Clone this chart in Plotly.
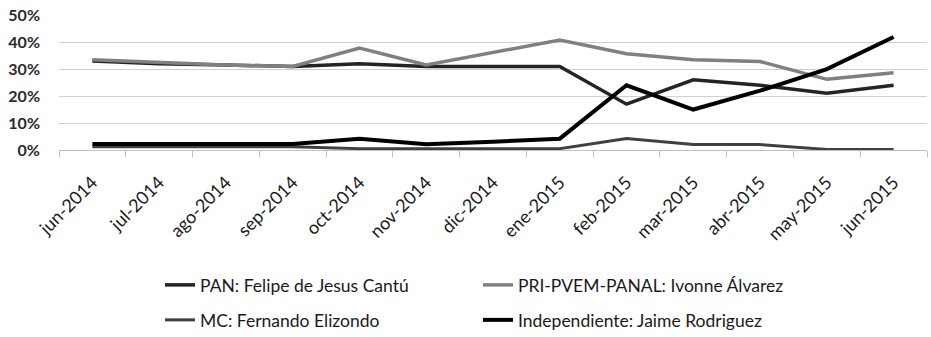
import plotly.graph_objects as go

months = ["jun-2014", "jul-2014", "ago-2014", "sep-2014", "oct-2014", "nov-2014", "dic-2014",
          "ene-2015", "feb-2015", "mar-2015", "abr-2015", "may-2015", "jun-2015"]

pan = [0.33, 0.32, 0.315, 0.31, 0.32, 0.31, 0.31, 0.31, 0.17, 0.26, 0.24, 0.21, 0.24]
pri = [0.335, 0.325, 0.315, 0.31, 0.378, 0.315, 0.36, 0.408, 0.357, 0.335, 0.328, 0.262, 0.286]
mc = [0.012, 0.012, 0.012, 0.012, 0.005, 0.005, 0.005, 0.005, 0.043, 0.02, 0.02, 0.002, 0.002]
indep = [0.022, 0.022, 0.022, 0.022, 0.042, 0.021, 0.031, 0.042, 0.24, 0.15, 0.22, 0.30, 0.419]

FONT = "Lato, Open Sans, sans-serif"
TXT = "#1a1a1a"

series = [
    ("PAN: Felipe de Jesus Cantú", pan, "#242424", 3.5, "legend"),
    ("PRI-PVEM-PANAL: Ivonne Álvarez", pri, "#808080", 3.5, "legend"),
    ("MC: Fernando Elizondo", mc, "#404040", 3.0, "legend2"),
    ("Independiente: Jaime Rodriguez", indep, "#000000", 4.0, "legend2"),
]

fig = go.Figure()
for name, vals, color, width, leg in series:
    fig.add_trace(go.Scatter(
        x=months, y=vals, mode="lines", name=name,
        line=dict(color=color, width=width),
        legend=leg,
        hovertemplate="%{x}<br>%{y:.0%}<extra></extra>"
    ))

W, H = 931, 337

legend_common = dict(
    orientation="h", xref="container", yref="container",
    xanchor="left", yanchor="middle",
    font=dict(size=17.5, color=TXT, family=FONT),
    entrywidth=273, itemwidth=30, bgcolor="rgba(0,0,0,0)",
)

fig.update_layout(
    width=W, height=H,
    margin=dict(l=59, r=4, t=15, b=187),
    plot_bgcolor="white", paper_bgcolor="white",
    font=dict(family=FONT, color=TXT),
    showlegend=True,
    legend=dict(x=160 / W, y=1 - 285 / H, **legend_common),
    legend2=dict(x=160 / W, y=1 - 320 / H, **legend_common),
    xaxis=dict(
        type="category", tickangle=-45, tickson="boundaries",
        ticks="outside", ticklen=6, tickcolor="#c0c0c0",
        showline=True, linecolor="#c0c0c0", linewidth=1,
        showgrid=False, automargin=False, ticklabelstandoff=14,
        tickfont=dict(size=18, color=TXT, family=FONT),
        range=[-0.5, 12.5],
    ),
    yaxis=dict(
        range=[0, 0.5005], dtick=0.1, tickformat=".0%",
        showgrid=True, gridcolor="#d0d0d0", gridwidth=1,
        zeroline=False, showline=False, ticks="",
        ticklabelstandoff=18, automargin=False, ticklabeloverflow="allow",
        tickfont=dict(size=16, color="#2a2a2a", family=FONT, weight="bold"),
    ),
)

# drop the browser's default 8px body margin so the figure sits at the page corner
fig.write_html("out.html", config={"displayModeBar": False},
               post_script="document.body.style.margin='0';")
